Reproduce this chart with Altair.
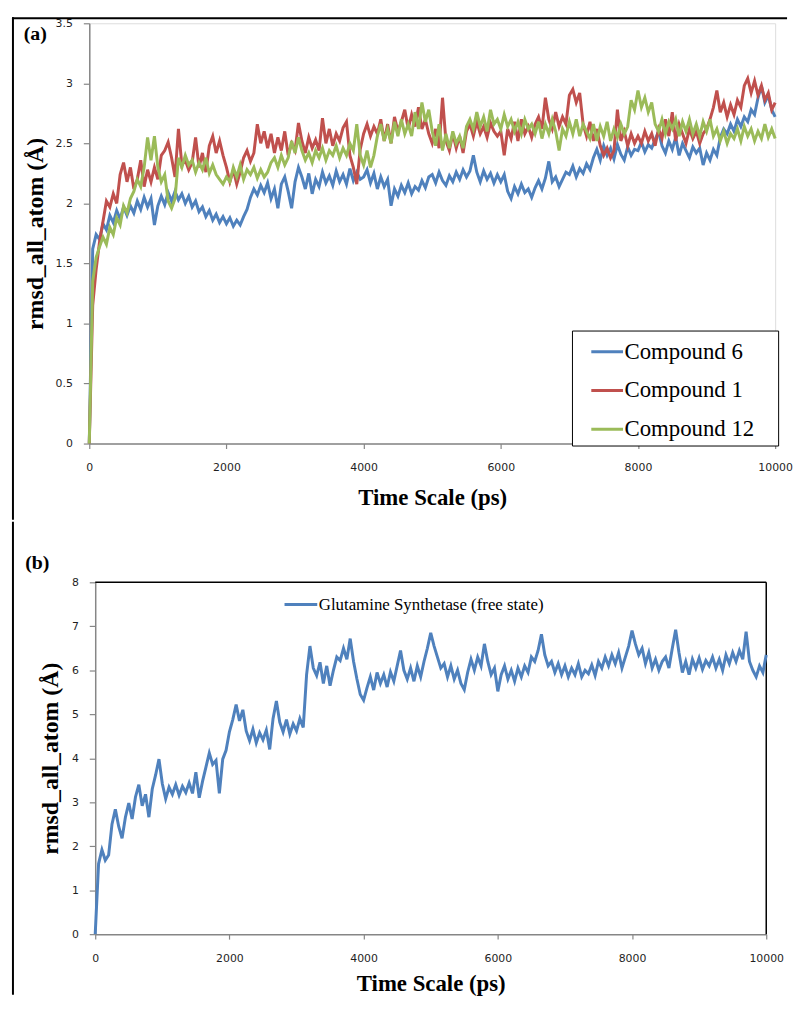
import altair as alt
import pandas as pd

# ---------------- data ----------------
TIMES = list(range(0, 10001, 50))  # ps, sampling grid of the trajectories

SERIES_A = ["Compound 6", "Compound 1", "Compound 12"]
COLORS_A = ["#4F81BD", "#C0504D", "#9BBB59"]

COMPOUND_6 = [
    0, 1.62, 1.74, 1.70, 1.83, 1.78, 1.90, 1.84, 1.94, 1.87, 1.97, 1.90, 1.98, 1.92, 2.02, 1.95, 2.05, 1.97, 2.04, 1.82,
    1.98, 2.06, 1.99, 2.09, 2.02, 2.10, 2.03, 2.08, 2.00, 2.06, 1.97, 2.02, 1.93, 1.97, 1.89, 1.94, 1.86, 1.91, 1.84, 1.89,
    1.83, 1.88, 1.81, 1.86, 1.82, 1.89, 1.95, 2.05, 2.12, 2.07, 2.15, 2.09, 2.17, 2.04, 2.12, 1.96, 2.16, 2.22, 2.10, 1.96,
    2.18, 2.30, 2.22, 2.12, 2.25, 2.08, 2.20, 2.14, 2.26, 2.17, 2.23, 2.15, 2.27, 2.18, 2.24, 2.16, 2.29, 2.19, 2.26, 2.20,
    2.22, 2.28, 2.17, 2.25, 2.12, 2.22, 2.14, 2.20, 1.98, 2.12, 2.06, 2.15, 2.09, 2.17, 2.08, 2.14, 2.11, 2.19, 2.13, 2.22,
    2.24, 2.17, 2.26, 2.19, 2.15, 2.23, 2.18, 2.26, 2.20, 2.28, 2.22, 2.27, 2.40, 2.26, 2.18, 2.27, 2.20, 2.25, 2.17, 2.24,
    2.18, 2.24, 2.10, 2.04, 2.14, 2.08, 2.16, 2.09, 2.12, 2.05, 2.13, 2.19, 2.12, 2.21, 2.35, 2.18, 2.22, 2.14, 2.20, 2.26,
    2.24, 2.31, 2.22, 2.29, 2.25, 2.33, 2.28, 2.38, 2.45, 2.36, 2.48, 2.40, 2.46, 2.37, 2.49, 2.41, 2.36, 2.47, 2.40, 2.45,
    2.44, 2.51, 2.43, 2.49, 2.46, 2.53, 2.60, 2.48, 2.42, 2.52, 2.45, 2.55, 2.40, 2.50, 2.44, 2.38, 2.47, 2.42, 2.46, 2.32,
    2.42, 2.36, 2.45, 2.40, 2.55, 2.62, 2.58, 2.66, 2.60, 2.70, 2.64, 2.72, 2.68, 2.78, 2.74, 2.88, 2.98, 2.84, 2.90, 2.78,
    2.72,
]

COMPOUND_1 = [
    0, 1.15, 1.45, 1.68, 1.85, 2.02, 1.97, 2.08, 2.00, 2.24, 2.34, 2.18, 2.30, 2.12, 2.20, 2.36, 2.14, 2.28, 2.18, 2.30,
    2.20, 2.40, 2.44, 2.51, 2.38, 2.22, 2.62, 2.32, 2.36, 2.28, 2.34, 2.55, 2.30, 2.42, 2.26, 2.48, 2.56, 2.42, 2.52, 2.40,
    2.30, 2.18, 2.28, 2.16, 2.26, 2.38, 2.44, 2.35, 2.42, 2.66, 2.50, 2.60, 2.46, 2.58, 2.42, 2.55, 2.44, 2.60, 2.40, 2.50,
    2.44, 2.67, 2.52, 2.42, 2.55, 2.46, 2.53, 2.44, 2.71, 2.50, 2.62, 2.48, 2.58, 2.52, 2.63, 2.68, 2.40, 2.30, 2.16, 2.45,
    2.58, 2.66, 2.56, 2.64, 2.58, 2.70, 2.52, 2.66, 2.50, 2.72, 2.60, 2.68, 2.78, 2.62, 2.74, 2.64, 2.80, 2.62, 2.70, 2.58,
    2.50, 2.62, 2.46, 2.88, 2.52, 2.44, 2.58, 2.46, 2.56, 2.42, 2.60, 2.66, 2.56, 2.68, 2.58, 2.64, 2.55, 2.67, 2.60, 2.56,
    2.60, 2.40, 2.62, 2.54, 2.68, 2.52, 2.70, 2.58, 2.64, 2.55, 2.66, 2.72, 2.62, 2.88, 2.70, 2.62, 2.76, 2.64, 2.72, 2.66,
    2.90, 2.95, 2.84, 2.92, 2.66, 2.56, 2.68, 2.52, 2.62, 2.48, 2.40, 2.46, 2.38, 2.44, 2.78, 2.52, 2.60, 2.48, 2.58, 2.50,
    2.56, 2.50, 2.60, 2.52, 2.58, 2.48, 2.62, 2.54, 2.70, 2.56, 2.76, 2.52, 2.66, 2.58, 2.50, 2.62, 2.54, 2.60, 2.50, 2.58,
    2.62, 2.70, 2.80, 2.94, 2.76, 2.84, 2.72, 2.82, 2.74, 2.86, 2.80, 2.98, 3.04, 2.92, 3.02, 2.90, 2.98, 2.86, 2.92, 2.78,
    2.84,
]

COMPOUND_12 = [
    0, 1.35, 1.55, 1.64, 1.72, 1.66, 1.80, 1.74, 1.88, 1.82, 1.98, 1.92, 2.04, 2.10, 2.20, 2.14, 2.30, 2.55, 2.36, 2.56,
    2.30, 2.18, 2.24, 2.02, 1.96, 2.04, 2.38, 2.30, 2.40, 2.32, 2.36, 2.26, 2.34, 2.28, 2.38, 2.25, 2.32, 2.24, 2.20, 2.16,
    2.22, 2.18, 2.30, 2.22, 2.32, 2.20, 2.28, 2.24, 2.30, 2.21, 2.28, 2.22, 2.26, 2.34, 2.38, 2.30, 2.40, 2.32, 2.38, 2.52,
    2.42, 2.55, 2.44, 2.36, 2.42, 2.34, 2.44, 2.38, 2.46, 2.36, 2.44, 2.40, 2.48, 2.38, 2.46, 2.40, 2.50, 2.44, 2.66, 2.40,
    2.32, 2.44, 2.30, 2.40, 2.56, 2.66, 2.52, 2.62, 2.50, 2.68, 2.56, 2.70, 2.58, 2.66, 2.56, 2.76, 2.62, 2.84, 2.68, 2.78,
    2.60, 2.48, 2.66, 2.44, 2.58, 2.46, 2.60, 2.50, 2.56, 2.46, 2.64, 2.70, 2.62, 2.76, 2.64, 2.72, 2.60, 2.78, 2.66, 2.70,
    2.62, 2.74, 2.64, 2.70, 2.60, 2.68, 2.58, 2.70, 2.62, 2.66, 2.58, 2.68, 2.54, 2.66, 2.58, 2.70, 2.60, 2.44, 2.62, 2.56,
    2.68, 2.58, 2.70, 2.56, 2.66, 2.60, 2.54, 2.66, 2.52, 2.64, 2.56, 2.68, 2.52, 2.62, 2.55, 2.66, 2.58, 2.64, 2.86, 2.78,
    2.94, 2.80, 2.88, 2.76, 2.84, 2.66, 2.60, 2.70, 2.58, 2.68, 2.62, 2.70, 2.56, 2.68, 2.60, 2.70, 2.58, 2.66, 2.56, 2.68,
    2.60, 2.70, 2.56, 2.62, 2.52, 2.60, 2.50, 2.58, 2.54, 2.62, 2.52, 2.64, 2.56, 2.62, 2.52, 2.60, 2.54, 2.66, 2.55, 2.62,
    2.54,
]

SERIES_B = "Glutamine Synthetase (free state)"
COLOR_B = "#4F81BD"

GS_FREE = [
    0, 1.60, 1.92, 1.68, 1.80, 2.50, 2.84, 2.45, 2.18, 2.66, 2.98, 2.62, 3.12, 3.40, 2.92, 3.18, 2.66, 3.30, 3.62, 3.98,
    3.42, 3.08, 3.34, 3.18, 3.40, 3.16, 3.36, 3.22, 3.44, 3.20, 3.68, 3.10, 3.48, 3.80, 4.12, 3.86, 3.95, 3.20, 3.98, 4.18,
    4.60, 4.88, 5.22, 4.85, 5.10, 4.62, 4.40, 4.66, 4.35, 4.58, 4.42, 4.64, 4.20, 4.90, 5.30, 4.82, 4.60, 4.88, 4.55, 4.78,
    4.62, 4.90, 4.70, 5.90, 6.55, 6.05, 5.88, 6.18, 5.70, 6.10, 5.65, 6.00, 6.30, 6.22, 6.50, 6.25, 6.72, 6.20, 5.80, 5.45,
    5.32, 5.60, 5.85, 5.55, 5.95, 5.70, 5.90, 5.62, 5.96, 5.75, 6.10, 6.45, 6.00, 5.80, 6.05, 5.75, 6.10, 5.85, 6.20, 6.50,
    6.85, 6.55, 6.30, 6.05, 6.15, 5.85, 6.10, 5.80, 6.00, 5.70, 5.56, 5.95, 6.25, 6.00, 6.30, 6.10, 6.60, 6.20, 5.90, 6.05,
    5.52, 5.90, 6.10, 5.80, 6.00, 5.75, 6.05, 5.85, 6.10, 5.95, 6.30, 6.20, 6.45, 6.82, 6.35, 6.10, 6.20, 5.95, 6.15, 5.90,
    6.10, 5.85, 6.05, 5.90, 6.15, 5.85, 6.00, 5.92, 6.12, 5.88, 6.20, 6.05, 6.30, 6.10, 6.35, 6.15, 6.40, 6.05, 6.30, 6.55,
    6.90, 6.60, 6.35, 6.50, 6.15, 6.40, 6.05, 6.25, 6.00, 6.20, 6.30, 6.05, 6.50, 6.92, 6.40, 5.95, 6.20, 5.90, 6.25, 6.05,
    6.28, 6.02, 6.22, 6.10, 6.30, 6.05, 6.25, 6.00, 6.35, 6.15, 6.40, 6.20, 6.45, 6.25, 6.88, 6.20, 6.00, 5.85, 6.10, 5.95,
    6.35,
]

X_TICKS = [0, 2000, 4000, 6000, 8000, 10000]
Y_TICKS_A = [0, 0.5, 1, 1.5, 2, 2.5, 3, 3.5]
Y_TICKS_B = [0, 1, 2, 3, 4, 5, 6, 7, 8]

for s in (COMPOUND_6, COMPOUND_1, COMPOUND_12, GS_FREE):
    assert len(s) == len(TIMES), len(s)

rows = []
for name, vals in zip(SERIES_A, [COMPOUND_6, COMPOUND_1, COMPOUND_12]):
    for t, v in zip(TIMES, vals):
        rows.append({"series": name, "t": t, "v": v})
df_a = pd.DataFrame(rows)
df_b = pd.DataFrame({"series": SERIES_B, "t": TIMES, "v": GS_FREE})
one = pd.DataFrame({"k": [0]})

SERIF = "Liberation Serif"
SANS = "DejaVu Sans"
AXIS_GREY = "#868686"
LW = 3
NBSP = "\u00a0"


def x_axis(label_pad, title_pad):
    return alt.Axis(values=X_TICKS, format="d", title="Time Scale (ps)", grid=False,
                    domainColor=AXIS_GREY, domainWidth=1.5, tickColor=AXIS_GREY, tickWidth=1.2,
                    tickSize=5, labelFont=SANS, labelFontSize=11, labelColor="#1f1f1f",
                    labelPadding=label_pad, labelFlush=False,
                    titleFont=SERIF, titleFontSize=23, titleFontWeight="bold", titleColor="black",
                    titlePadding=title_pad)


def y_axis(values, label_pad, title_pad, offset=0):
    return alt.Axis(values=values, format="~g", title="rmsd_all_atom (Å)", grid=False,
                    domainColor=AXIS_GREY, domainWidth=1.5, tickColor=AXIS_GREY, tickWidth=1.2,
                    tickSize=6, labelFont=SANS, labelFontSize=11, labelColor="#1f1f1f",
                    labelPadding=label_pad, offset=offset,
                    titleFont=SERIF, titleFontSize=24, titleFontWeight="bold", titleColor="black",
                    titlePadding=title_pad)


def frame_rule(**enc):
    return alt.Chart(one).mark_rule(color="black", strokeWidth=2, strokeCap="square").encode(**enc)


# ---------------- panel (a) ----------------
lines_a = alt.Chart(df_a).mark_line(strokeWidth=LW).encode(
    x=alt.X("t:Q", scale=alt.Scale(domain=[0, 10000], nice=False), axis=x_axis(13, 15)),
    y=alt.Y("v:Q", scale=alt.Scale(domain=[0, 3.5], nice=False), axis=y_axis(Y_TICKS_A, 11, 8)),
    color=alt.Color("series:N", sort=SERIES_A,
                    scale=alt.Scale(domain=SERIES_A, range=COLORS_A),
                    legend=alt.Legend(title=NBSP, titleOrient="right", titlePadding=20,
                                      titleFontSize=2,
                                      orient="none", legendX=487, legendY=310,
                                      symbolType="stroke", symbolSize=1024, symbolStrokeWidth=3,
                                      labelFont=SERIF, labelFontSize=23, labelColor="black",
                                      padding=4, rowPadding=9, symbolOffset=14, labelOffset=0,
                                      strokeColor="black", fillColor="white")),
)

frame_a_v = frame_rule(x=alt.value(-77), y=alt.value(-5), y2=alt.value(500))
frame_a_h = frame_rule(x=alt.value(-77), x2=alt.value(703), y=alt.value(-5))
label_a = alt.Chart(one).mark_text(text="(a)", font=SERIF, fontSize=20, fontWeight="bold",
                                   color="black").encode(x=alt.value(-54.5), y=alt.value(11))

panel_a = alt.layer(lines_a, frame_a_v, frame_a_h, label_a).properties(width=692, height=424)

# ---------------- panel (b) ----------------
# plot area of (b) starts 6 px right of (a)'s, so its x range begins at 6
lines_b = alt.Chart(df_b).mark_line(strokeWidth=LW).encode(
    x=alt.X("t:Q", scale=alt.Scale(domain=[0, 10000], nice=False, range=[6, 683]),
            axis=x_axis(14, 9)),
    y=alt.Y("v:Q", scale=alt.Scale(domain=[0, 8], nice=False),
            axis=y_axis(Y_TICKS_B, 11, 9, offset=-6)),
    color=alt.Color("series:N",
                    scale=alt.Scale(domain=[SERIES_B], range=[COLOR_B]),
                    legend=alt.Legend(title=None, orient="none", legendX=195.5, legendY=4.5,
                                      symbolType="stroke", symbolSize=1089, symbolStrokeWidth=3,
                                      labelFont=SERIF, labelFontSize=17, labelColor="black",
                                      labelLimit=0, padding=0, labelOffset=0)),
)

border_b_top = alt.Chart(one).mark_rule(color="black", strokeWidth=1.5).encode(
    x=alt.value(6), x2=alt.value(683), y=alt.value(0))
border_b_right = alt.Chart(one).mark_rule(color="black", strokeWidth=1.5).encode(
    x=alt.value(683), y=alt.value(0), y2=alt.value(355))
frame_b_v = frame_rule(x=alt.value(-77), y=alt.value(-60), y2=alt.value(415))
label_b = alt.Chart(one).mark_text(text="(b)", font=SERIF, fontSize=20, fontWeight="bold",
                                   color="black").encode(x=alt.value(-52.5), y=alt.value(-19))

panel_b = alt.layer(border_b_top, border_b_right, lines_b, frame_b_v, label_b).properties(
    width=683, height=355, view=alt.ViewBackground(stroke="transparent"))

chart = alt.concat(panel_a, panel_b, columns=1, spacing=0).resolve_scale(
    color="independent", x="independent", y="independent"
).resolve_legend(color="independent").properties(
    padding={"left": 3, "top": 4, "right": 0, "bottom": 0}
).configure_view(
    stroke="black", strokeWidth=1.5
).configure(background="white")

chart.save("out.html", embed_options={"renderer": "svg", "actions": False})
